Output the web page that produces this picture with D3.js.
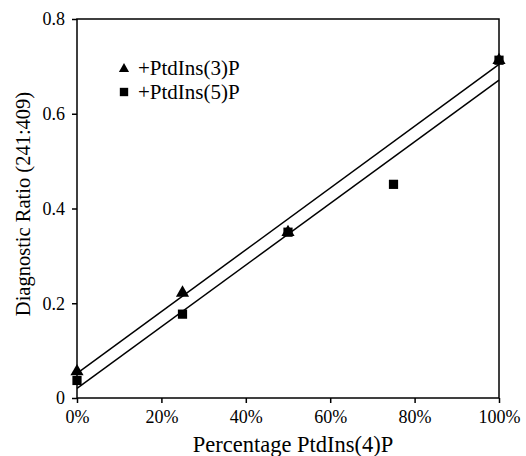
<!DOCTYPE html>
<html>
<head>
<meta charset="utf-8">
<script src="https://cdn.jsdelivr.net/npm/d3@7"></script>
<style>
body{margin:0;background:#fff;}
text{font-family:"Liberation Serif","DejaVu Serif",serif;fill:#000;}
</style>
</head>
<body>
<svg id="chart" width="526" height="456"></svg>
<script>
// data
var pct = [0, 25, 50, 75, 100]
var ins3 = [0.058, 0.224, 0.352, null, 0.715]
var ins5 = [0.037, 0.177, 0.350, 0.451, 0.713]
var xTicks = [0, 20, 40, 60, 80, 100]
var yTicks = [0, 0.2, 0.4, 0.6, 0.8]
var seriesNames = ['+PtdIns(3)P', '+PtdIns(5)P']

function fit(xs, ys){
	var pts = xs.map(function(x, i){return [x, ys[i]]}).filter(function(p){return p[1] !== null})
	var mx = d3.mean(pts, function(p){return p[0]})
	var my = d3.mean(pts, function(p){return p[1]})
	var sxy = d3.sum(pts, function(p){return (p[0]-mx)*(p[1]-my)})
	var sxx = d3.sum(pts, function(p){return (p[0]-mx)*(p[0]-mx)})
	var b = sxy/sxx
	return {b: b, a: my - b*mx}
}

var svg = d3.select('#chart')
var pLeft = 77, pRight = 499, pTop = 19, pBottom = 398

var x = d3.scaleLinear().domain([0, 100]).range([pLeft, pRight])
var y = d3.scaleLinear().domain([0, 0.8]).range([pBottom, pTop])

// frame
svg.append('rect')
	.attr('x', pLeft).attr('y', pTop)
	.attr('width', pRight-pLeft).attr('height', pBottom-pTop)
	.style('fill', 'none').style('stroke', '#000').style('stroke-width', 1.5)

var xAxis = svg.append('g')
	.attr('transform', 'translate(0,' + pBottom + ')')
	.call(d3.axisBottom(x).tickValues(xTicks).tickSize(5).tickPadding(7)
		.tickFormat(function(d){return d + '%'}))
var yAxis = svg.append('g')
	.attr('transform', 'translate(' + pLeft + ',0)')
	.call(d3.axisLeft(y).tickValues(yTicks).tickSize(5).tickPadding(7)
		.tickFormat(function(d){return d === 0 ? '0' : d3.format('.1f')(d)}))
;[xAxis, yAxis].forEach(function(g){
	g.select('.domain').remove()
	g.selectAll('line').style('stroke', '#000').style('stroke-width', 1.5)
	g.selectAll('text').style('font-family', '"Liberation Serif", serif').style('font-size', '18px').style('fill', '#000')
})

// trend lines
;[ins3, ins5].forEach(function(s){
	var f = fit(pct, s)
	svg.append('line')
		.attr('x1', x(0)).attr('y1', y(f.a))
		.attr('x2', x(100)).attr('y2', y(f.a + f.b*100))
		.style('stroke', '#000').style('stroke-width', 1.5)
})

var tri = d3.symbol().type(d3.symbolTriangle).size(75)
var sq = d3.symbol().type(d3.symbolSquare).size(85)

svg.selectAll('.sq')
	.data(pct.map(function(p, i){return {x: p, y: ins5[i]}}))
	.enter().append('path')
	.attr('class', 'sq')
	.attr('d', sq)
	.attr('transform', function(d){return 'translate(' + x(d.x) + ',' + y(d.y) + ')'})

svg.selectAll('.tri')
	.data(pct.map(function(p, i){return {x: p, y: ins3[i]}}).filter(function(d){return d.y !== null}))
	.enter().append('path')
	.attr('class', 'tri')
	.attr('d', tri)
	.attr('transform', function(d){return 'translate(' + x(d.x) + ',' + (y(d.y)+1) + ')'})

// legend
var leg = svg.append('g')
leg.append('path').attr('d', d3.symbol().type(d3.symbolTriangle).size(45)).attr('transform', 'translate(124,69)')
leg.append('path').attr('d', d3.symbol().type(d3.symbolSquare).size(70)).attr('transform', 'translate(124,92)')
leg.selectAll('.lt')
	.data(seriesNames)
	.enter().append('text')
	.attr('x', 138).attr('y', function(d, i){return 75 + i*23.5})
	.style('font-size', '21px')
	.text(function(d){return d})

// axis titles
svg.append('text')
	.attr('x', 293).attr('y', 452)
	.attr('text-anchor', 'middle').style('font-size', '22.5px')
	.text('Percentage PtdIns(4)P')
svg.append('text')
	.attr('transform', 'translate(30,204) rotate(-90)')
	.attr('text-anchor', 'middle').style('font-size', '20.5px')
	.text('Diagnostic Ratio (241:409)')
</script>
</body>
</html>
